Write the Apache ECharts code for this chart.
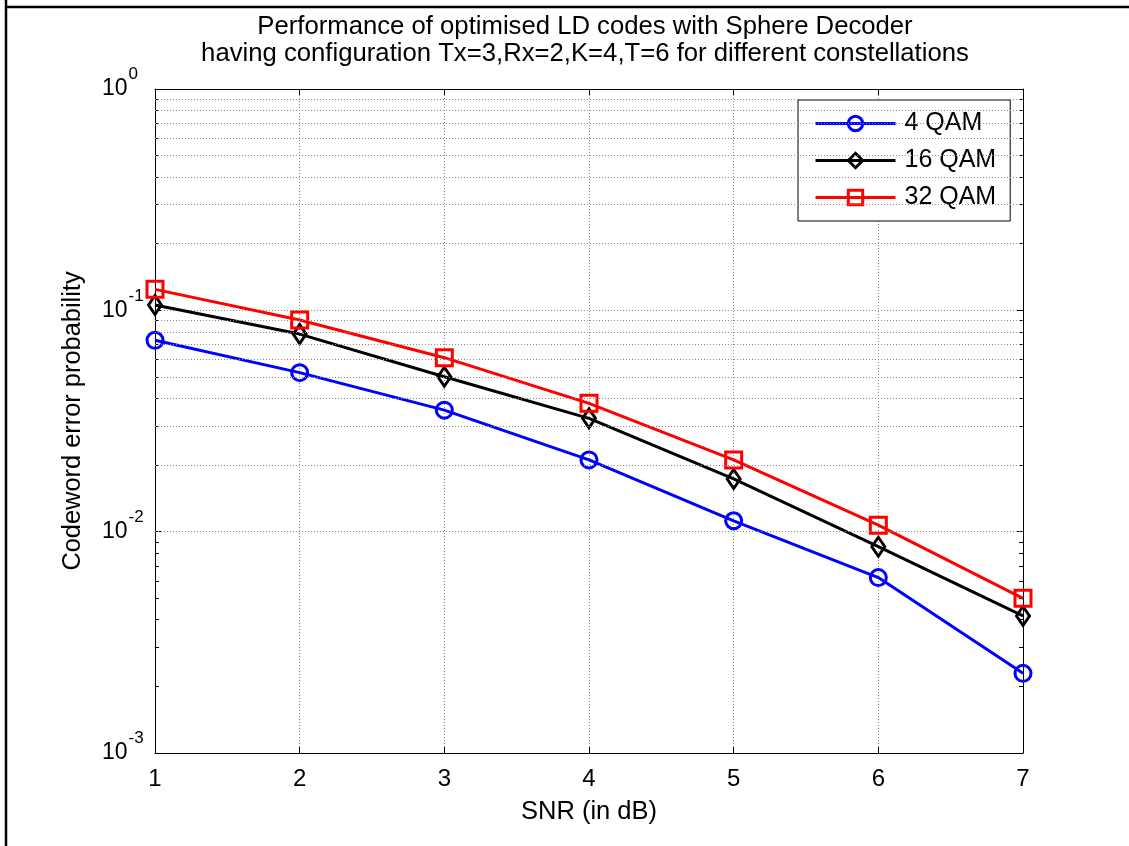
<!DOCTYPE html>
<html>
<head>
<meta charset="utf-8">
<script src="https://cdn.jsdelivr.net/npm/echarts@6/dist/echarts.min.js"></script>
<style>
html,body{margin:0;padding:0;background:#fff;}
#chart{width:1129px;height:846px;}
</style>
</head>
<body>
<div id="chart"></div>
<script>
// ---- data ----
const snr = [1, 2, 3, 4, 5, 6, 7];
const qam4 = [0.0732, 0.0523, 0.0354, 0.0211, 0.0112, 0.0062, 0.00229];
const qam16 = [0.1057, 0.0781, 0.0501, 0.0325, 0.0173, 0.00855, 0.00416];
const qam32 = [0.1244, 0.0904, 0.0611, 0.0380, 0.0211, 0.0107, 0.0050];
const seriesNames = ['4 QAM', '16 QAM', '32 QAM'];
const titleLines = ['Performance of optimised LD codes with Sphere Decoder',
  'having configuration Tx=3,Rx=2,K=4,T=6 for different constellations'];
const minorGridValues = [0.002,0.003,0.004,0.005,0.006,0.007,0.008,0.009,
  0.02,0.03,0.04,0.05,0.06,0.07,0.08,0.09,
  0.2,0.3,0.4,0.5,0.6,0.7,0.8,0.9];

const FONT = '"Liberation Sans", Arial, sans-serif';
const chart = echarts.init(document.getElementById('chart'), null, {renderer: 'canvas'});

function mkSeries(name, data, color, symbol, size) {
  return {
    name: name, type: 'line', data: snr.map((x, i) => [x, data[i]]),
    xAxisIndex: 0, yAxisIndex: 0,
    symbol: symbol, symbolSize: size, showAllSymbol: true,
    itemStyle: {color: 'rgba(255,255,255,0)', borderColor: color, borderWidth: 3},
    lineStyle: {color: color, width: 3},
    emphasis: {disabled: true}, z: 3, animation: false
  };
}

const gridLine = {show: true, lineStyle: {type: [1, 2], color: '#8c8c8c', width: 1}};

const option = {
  backgroundColor: '#fff',
  animation: false,
  textStyle: {fontFamily: FONT},
  title: {
    text: titleLines.join('\n'), left: 585, top: 13, textAlign: 'center', padding: 0,
    textStyle: {fontFamily: FONT, fontSize: 25.7, fontWeight: 'normal', color: '#000', lineHeight: 27}
  },
  legend: {
    data: seriesNames, orient: 'vertical', left: 798, top: 100,
    backgroundColor: '#fff', borderColor: '#000', borderWidth: 1,
    padding: [11, 14, 11, 16], itemGap: 12, itemWidth: 80, itemHeight: 18,
    lineStyle: {width: 3},
    itemStyle: {borderWidth: 3},
    textStyle: {fontFamily: FONT, fontSize: 25, color: '#000', padding: [0, 0, 0, 4]},
    selectedMode: false
  },
  grid: {left: 155, right: 106, top: 89, bottom: 93, containLabel: false},
  xAxis: [{
    type: 'value', min: 1, max: 7, interval: 1, position: 'bottom',
    name: 'SNR (in dB)', nameLocation: 'middle', nameGap: 46,
    nameTextStyle: {fontFamily: FONT, fontSize: 25.5, color: '#000'},
    axisLine: {show: true, onZero: false, lineStyle: {color: '#000', width: 1}},
    axisTick: {show: true, inside: true, length: 6, lineStyle: {color: '#000'}},
    axisLabel: {fontFamily: FONT, fontSize: 24, color: '#000', margin: 14},
    splitLine: gridLine
  }, {
    type: 'value', min: 1, max: 7, interval: 1, position: 'top',
    axisLine: {show: true, onZero: false, lineStyle: {color: '#000', width: 1}},
    axisTick: {show: true, inside: true, length: 6, lineStyle: {color: '#000'}},
    axisLabel: {show: false}, splitLine: {show: false}
  }],
  yAxis: [{
    type: 'log', logBase: 10, min: 0.001, max: 1, position: 'left',
    name: 'Codeword error probability', nameLocation: 'middle', nameGap: 70, nameRotate: 90,
    nameTextStyle: {fontFamily: FONT, fontSize: 25.4, color: '#000'},
    axisLine: {show: true, onZero: false, lineStyle: {color: '#000', width: 1}},
    axisTick: {show: true, inside: true, length: 6, lineStyle: {color: '#000'}},
    minorTick: {show: true, splitNumber: 9, length: 4, lineStyle: {color: '#000'}},
    axisLabel: {
      align: 'left', margin: 53, color: '#000',
      formatter: v => '{b|10}{s|' + Math.round(Math.log10(v)) + '}',
      rich: {
        b: {fontFamily: FONT, fontSize: 23, lineHeight: 46, verticalAlign: 'middle', color: '#000'},
        s: {fontFamily: FONT, fontSize: 17, lineHeight: 17, verticalAlign: 'top', color: '#000', padding: [0, 0, 0, 1]}
      }
    },
    splitLine: gridLine
  }, {
    type: 'log', logBase: 10, min: 0.001, max: 1, position: 'right',
    axisLine: {show: true, onZero: false, lineStyle: {color: '#000', width: 1}},
    axisTick: {show: true, inside: true, length: 6, lineStyle: {color: '#000'}},
    minorTick: {show: true, splitNumber: 9, length: 4, lineStyle: {color: '#000'}},
    axisLabel: {show: false}, splitLine: {show: false}
  }],
  graphic: [
    {type: 'line', shape: {x1: 6, y1: 0, x2: 6, y2: 846}, style: {stroke: '#000', lineWidth: 2.5}, silent: true},
    {type: 'line', shape: {x1: 6, y1: 7, x2: 1129, y2: 7}, style: {stroke: '#000', lineWidth: 2.5}, silent: true}
  ],
  series: [
    {
      name: 'minor-grid', type: 'line', data: [], xAxisIndex: 0, yAxisIndex: 0, z: 1,
      silent: true, animation: false,
      markLine: {
        silent: true, symbol: ['none', 'none'], animation: false,
        label: {show: false},
        lineStyle: {type: [1, 2], color: '#8c8c8c', width: 1},
        emphasis: {disabled: true},
        data: minorGridValues.map(v => ({yAxis: v}))
      }
    },
    mkSeries(seriesNames[0], qam4, '#0000ff', 'circle', 16),
    mkSeries(seriesNames[1], qam16, '#000000', 'diamond', [13, 19]),
    mkSeries(seriesNames[2], qam32, '#ff0000', 'rect', 16)
  ]
};
chart.setOption(option);
</script>
</body>
</html>
